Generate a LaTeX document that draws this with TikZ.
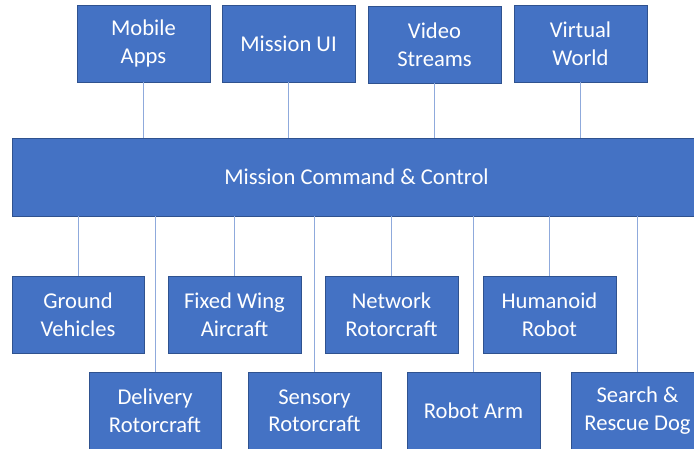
\documentclass[tikz,border=0pt]{standalone}
\usepackage{fontspec}
\setmainfont{Carlito}
\definecolor{boxfill}{HTML}{4472C4}
\definecolor{boxline}{HTML}{2F528F}
\definecolor{conn}{HTML}{8FAADC}
\begin{document}
\begin{tikzpicture}[x=1pt,y=-1pt,
  box/.style={draw=boxline, line width=0.8pt, fill=boxfill, text=white,
    minimum width=133pt, minimum height=77pt, inner sep=2pt, align=center,
    font=\fontsize{22.6}{27.5}\selectfont},
  link/.style={draw=conn, line width=1pt}]
\useasboundingbox (0,0) rectangle (694,449);
\clip (0,0) rectangle (694,449);
\fill[white] (0,0) rectangle (694,449);
% top row
\node[box] (mob) at (143.5,43.5) {Mobile\\Apps};
\node[box] (mui) at (288.5,43.5) {Mission UI};
\node[box] (vid) at (434.5,44.5) {Video\\Streams};
\node[box] (vw) at (580.5,43.5) {Virtual\\World};
% bar
\node[box, minimum width=689pt, minimum height=78pt] (mcc) at (356.5,177) {Mission Command \& Control};
% row 2
\node[box, minimum width=132pt] (gv) at (78,314.5) {Ground\\Vehicles};
\node[box] (fw) at (234.5,314.5) {Fixed Wing\\Aircraft};
\node[box] (nr) at (391.5,314.5) {Network\\Rotorcraft};
\node[box] (hr) at (549.5,314.5) {Humanoid\\Robot};
% row 3
\node[box, minimum width=132pt] (dr) at (155,410.5) {Delivery\\Rotorcraft};
\node[box] (sr) at (314.5,410.5) {Sensory\\Rotorcraft};
\node[box] (ra) at (473.5,410.5) {Robot Arm};
\node[box] (sd) at (637.5,410.5) {Search \&\\Rescue Dog};
% connectors
\foreach \n in {mob,mui,vid,vw}
  \draw[link] (\n.south) -- (\n.south |- mcc.north);
\foreach \n in {gv,fw,nr,hr,dr,sr,ra,sd}
  \draw[link] (mcc.south -| \n.north) -- (\n.north);
\end{tikzpicture}
\end{document}
